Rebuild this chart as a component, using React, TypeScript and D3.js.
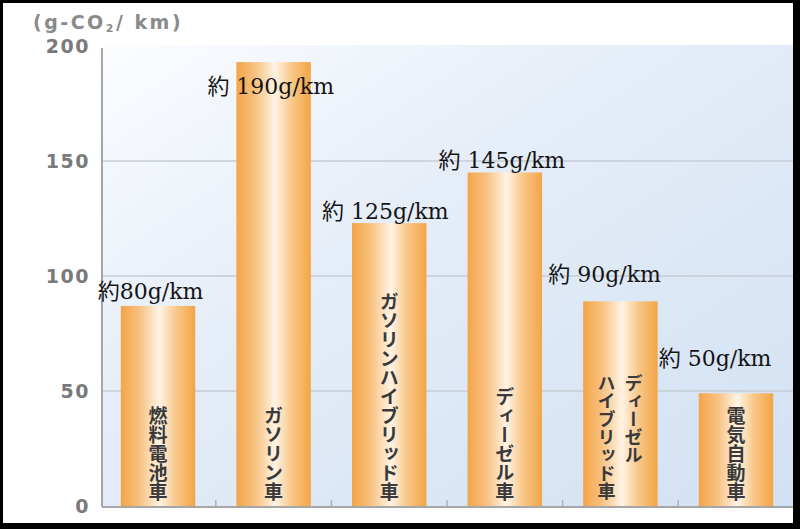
import React from 'react';
import * as d3 from 'd3';

// category labels (vertical), one entry per bar; an inner array = columns, right to left
const categories = ['燃料電池車', 'ガソリン車', 'ガソリンハイブリッド車', 'ディーゼル車', 'ディーゼルハイブリッド車', '電気自動車'];
const categoryColumns = [
    ['燃料電池車'],
    ['ガソリン車'],
    ['ガソリンハイブリッド車'],
    ['ディーゼル車'],
    ['ディーゼル', 'ハイブリッド車'],
    ['電気自動車'],
];
const barValues = [87, 193, 123, 145, 89, 49];
const valueLabels = ['約80g/km', '約 190g/km', '約 125g/km', '約 145g/km', '約 90g/km', '約 50g/km'];
const yTicks = [0, 50, 100, 150, 200];
const gridTicks = [50, 100, 150];

// label placement, relative to each bar (left edge / top)
const labelDx = [-23, -29, -30, -29, -35, -40];
const labelDy = [-7, 32, -4, -5, -19, -27];

const W = 800;
const H = 529;
const plot = { left: 102, right: 792, top: 46, bottom: 506 };

const x = d3.scaleBand<string>()
    .domain(categories)
    .range([plot.left, plot.right])
    .paddingInner(0.356)
    .paddingOuter(0.1625);

const y = d3.scaleLinear()
    .domain([0, 200])
    .range([plot.bottom, plot.top]);

const App = () => {
    const bw = x.bandwidth();
    const gap = x.step() - bw;

    return (
        <svg width={W} height={H} style={{ position: 'absolute', left: 0, top: 0, display: 'block' }}>
            <defs>
                <linearGradient id="bg" x1="0" y1="0" x2="1" y2="1">
                    <stop offset="0%" stopColor="#fbfdff" />
                    <stop offset="40%" stopColor="#e5edf8" />
                    <stop offset="100%" stopColor="#d2e1f3" />
                </linearGradient>
                <linearGradient id="bar" x1="0" y1="0" x2="1" y2="0">
                    <stop offset="0%" stopColor="#f3a548" />
                    <stop offset="25%" stopColor="#f7c180" />
                    <stop offset="52%" stopColor="#fff3e4" />
                    <stop offset="75%" stopColor="#f8c686" />
                    <stop offset="100%" stopColor="#f3a546" />
                </linearGradient>
            </defs>

            {/* frame */}
            <rect x={0} y={0} width={W} height={H} fill="#000" />
            <rect x={3} y={3} width={790} height={520} fill="#fff" />

            {/* plot background */}
            <rect x={plot.left} y={plot.top - 1} width={793 - plot.left} height={plot.bottom - plot.top + 1} fill="url(#bg)" />

            {/* grid */}
            {gridTicks.map(t => (
                <line key={t} x1={plot.left} x2={793} y1={y(t)} y2={y(t)} stroke="#c6ccd5" strokeWidth={1.6} />
            ))}

            {/* bars */}
            {categories.map((c, i) => (
                <rect key={c} x={x(c)} y={y(barValues[i])} width={bw} height={y(0) - y(barValues[i])} fill="url(#bar)" />
            ))}

            {/* axes */}
            <line x1={plot.left} x2={plot.left} y1={plot.top + 2} y2={plot.bottom + 1} stroke="#a6a6a6" strokeWidth={2} />
            <line x1={plot.left} x2={793} y1={plot.bottom + 1} y2={plot.bottom + 1} stroke="#a6a6a6" strokeWidth={2} />
            {categories.slice(0, -1).map(c => {
                const tx = (x(c) as number) + bw + gap / 2;
                return <line key={c} x1={tx} x2={tx} y1={plot.bottom} y2={plot.bottom - 6} stroke="#b0b0b0" strokeWidth={1.5} />;
            })}

            {/* y tick labels */}
            {yTicks.map(t => (
                <text key={t} x={90} y={y(t)} dy="0.36em" textAnchor="end"
                    fontFamily="'DejaVu Sans', sans-serif" fontWeight="bold" fontSize={19}
                    letterSpacing={1.5} fill="#7a7a7a">{t}</text>
            ))}

            {/* y axis title */}
            <text x={33} y={29} fontFamily="'DejaVu Sans', sans-serif" fontWeight="bold" fontSize={19}
                letterSpacing={2.5} fill="#8a8a8a">
                (g-CO<tspan fontSize={11} dy={3}>2</tspan><tspan dy={-3}>/ km)</tspan>
            </text>

            {/* value labels */}
            {categories.map((c, i) => (
                <text key={c} x={(x(c) as number) + labelDx[i]} y={y(barValues[i]) + labelDy[i]}
                    fontFamily="'DejaVu Serif', 'Noto Sans CJK JP', serif" fontSize={22} fill="#151515">
                    {valueLabels[i]}
                </text>
            ))}

            {/* vertical category labels */}
            {categories.map((c, i) => {
                const cols = categoryColumns[i];
                const cx = (x(c) as number) + bw / 2;
                if (cols.length === 1) {
                    return (
                        <text key={c} x={cx} y={plot.bottom - 5} textAnchor="end"
                            style={{ writingMode: 'vertical-rl' }}
                            fontFamily="'Noto Sans CJK JP', sans-serif" fontWeight="bold" fontSize={19} fill="#3a3a3a">
                            {cols[0]}
                        </text>
                    );
                }
                return (
                    <g key={c}>
                        {cols.map((col, j) => (
                            <text key={col} x={cx + 13 - j * 27} y={y(barValues[i]) + 73} textAnchor="start"
                                style={{ writingMode: 'vertical-rl' }}
                                fontFamily="'Noto Sans CJK JP', sans-serif" fontWeight="bold" fontSize={18} fill="#3a3a3a">
                                {col}
                            </text>
                        ))}
                    </g>
                );
            })}
        </svg>
    );
};

export default App;
